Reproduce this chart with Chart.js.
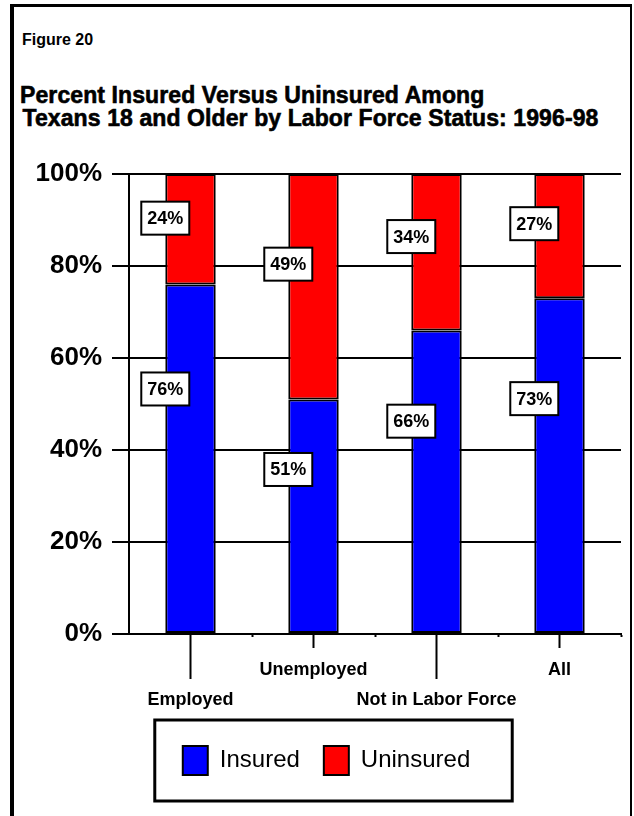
<!DOCTYPE html>
<html>
<head>
<meta charset="utf-8">
<title>Figure 20</title>
<script src="https://cdn.jsdelivr.net/npm/chart.js@4.4.1/dist/chart.umd.min.js"></script>
<style>
  html, body { margin: 0; padding: 0; background: #fff; }
  #page { position: relative; width: 634px; height: 816px; overflow: hidden; font-family: "Liberation Sans", Arial, sans-serif; color: #000; }
  #frame { position: absolute; left: 10px; top: 4px; width: 616px; height: 840px; border-left: 4px solid #000; border-top: 3px solid #000; border-right: 2px solid #000; }
  #fig { position: absolute; left: 22px; top: 31px; font-size: 16px; font-weight: bold; }
  .title { position: absolute; font-size: 23px; font-weight: bold; white-space: pre; line-height: 23px; -webkit-text-stroke: 0.6px #000; letter-spacing: 0.1px; }
  #t1 { left: 20px; top: 84px; }
  #t2 { left: 16px; top: 107px; }
  #chart { position: absolute; left: 0; top: 0; }
</style>
</head>
<body>
<div id="page">
  <div id="frame"></div>
  <div id="fig">Figure 20</div>
  <div class="title" id="t1">Percent Insured Versus Uninsured Among</div>
  <div class="title" id="t2"> Texans 18 and Older by Labor Force Status: 1996-98</div>
  <canvas id="chart" width="634" height="816"></canvas>
</div>
<script>
// Données du graphique
const categories = ['Employed', 'Unemployed', 'Not in Labor Force', 'All'];
const insured = [76, 51, 66, 73];
const uninsured = [24, 49, 34, 27];
const yTicks = [0, 20, 40, 60, 80, 100];

const FONT = '"Liberation Sans", Arial, sans-serif';

// Étiquettes encadrées sur les barres
const boxLabels = {
    id: 'boxLabels',
    afterDatasetsDraw(chart) {
        const ctx = chart.ctx;
        ctx.save();
        ctx.font = 'bold 18px ' + FONT;
        ctx.textAlign = 'center';
        ctx.textBaseline = 'middle';
        chart.data.datasets.forEach((ds, di) => {
            chart.getDatasetMeta(di).data.forEach((bar, i) => {
                const h = bar.base - bar.y;
                const x = bar.x - bar.width / 2;
                const y = di === 0 ? bar.base - 0.7 * h : bar.y + 0.4 * h;
                const w = 48, bh = 33;
                ctx.fillStyle = '#fff';
                ctx.fillRect(x - w / 2, y - bh / 2, w, bh);
                ctx.lineWidth = 2;
                ctx.strokeStyle = '#000';
                ctx.strokeRect(x - w / 2, y - bh / 2, w, bh);
                ctx.fillStyle = '#000';
                ctx.fillText(ds.data[i] + '%', x, y + 1);
            });
        });
        ctx.restore();
    }
};

// Traits sous l'axe des catégories + cadre de la légende
const extras = {
    id: 'extras',
    afterDraw(chart) {
        const ctx = chart.ctx;
        const xs = chart.scales.x;
        ctx.save();
        ctx.strokeStyle = '#000';
        ctx.lineWidth = 2;
        categories.forEach((c, i) => {
            const x = xs.getPixelForValue(i);
            const len = i % 2 === 0 ? 45 : 14;
            ctx.beginPath();
            ctx.moveTo(x, xs.top);
            ctx.lineTo(x, xs.top + len);
            ctx.stroke();
        });

        const hb = chart.legend.legendHitBoxes;
        if (hb && hb.length) {
            const left = Math.min(...hb.map(b => b.left)) - 28;
            const right = Math.max(...hb.map(b => b.left + b.width)) + 42;
            const top = Math.min(...hb.map(b => b.top)) - 26;
            const bottom = Math.max(...hb.map(b => b.top + b.height)) + 26;
            ctx.lineWidth = 3;
            ctx.strokeRect(left, top, right - left, bottom - top);
        }
        ctx.restore();
    }
};

const ctx = document.getElementById('chart').getContext('2d');
const chart = new Chart(ctx, {
    type: 'bar',
    data: {
        labels: categories,
        datasets: [
            {
                label: 'Insured',
                data: insured,
                backgroundColor: '#0000ff',
                borderColor: '#000',
                borderWidth: 2,
                borderSkipped: false,
                barPercentage: 0.41,
                categoryPercentage: 1
            },
            {
                label: 'Uninsured',
                data: uninsured,
                backgroundColor: '#ff0000',
                borderColor: '#000',
                borderWidth: 2,
                borderSkipped: false,
                barPercentage: 0.41,
                categoryPercentage: 1
            }
        ]
    },
    options: {
        responsive: false,
        animation: false,
        devicePixelRatio: 1,
        layout: { padding: { left: 32, right: 13, top: 174, bottom: 31 } },
        scales: {
            x: {
                stacked: true,
                offset: true,
                grid: {
                    display: true,
                    drawOnChartArea: false,
                    offset: true,
                    tickLength: 3,
                    tickWidth: 2,
                    tickColor: c => c.index === 0 ? 'rgba(0,0,0,0)' : '#000'
                },
                border: { display: true, color: '#000', width: 2 },
                ticks: {
                    color: '#000',
                    padding: 18,
                    maxRotation: 0,
                    autoSkip: false,
                    font: { family: FONT, size: 18, weight: 'bold', lineHeight: 30 / 18 },
                    callback: (v, i) => i % 2 === 0 ? ['', categories[i]] : [categories[i]]
                },
                afterFit: s => { s.height = 88; }
            },
            y: {
                stacked: true,
                min: 0,
                max: 100,
                afterBuildTicks: s => { s.ticks = yTicks.map(v => ({ value: v })); },
                ticks: {
                    color: '#000',
                    padding: 10,
                    font: { family: FONT, size: 26, weight: 'bold' },
                    callback: v => v + '%'
                },
                grid: { color: '#000', lineWidth: 2, tickLength: 17 },
                border: { color: '#000', width: 2 },
                afterFit: s => { s.width = 97; }
            }
        },
        plugins: {
            tooltip: { enabled: false },
            legend: {
                position: 'bottom',
                labels: {
                    color: '#000',
                    boxWidth: 25,
                    boxHeight: 29,
                    padding: 24,
                    font: { family: FONT, size: 24 }
                }
            }
        }
    },
    plugins: [boxLabels, extras]
});
</script>
</body>
</html>
